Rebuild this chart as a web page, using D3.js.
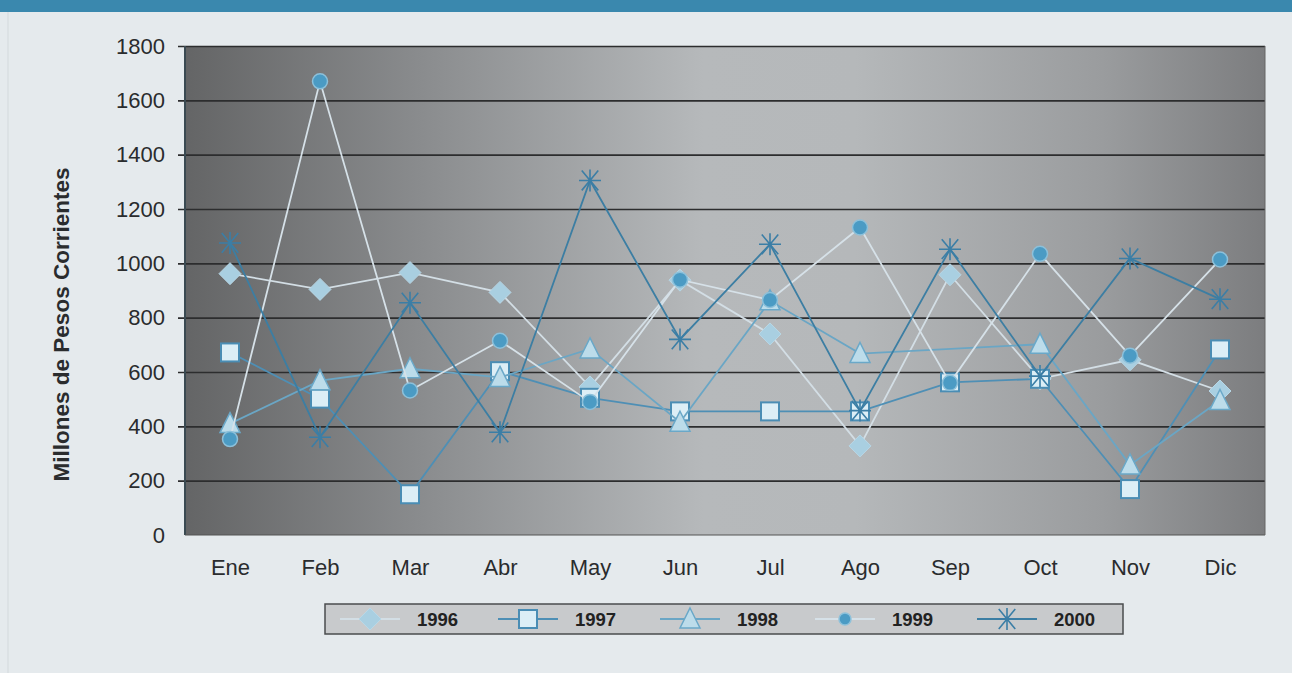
<!DOCTYPE html>
<html><head><meta charset="utf-8">
<script src="https://cdn.jsdelivr.net/npm/d3@7"></script>
<style>html,body{margin:0;padding:0;background:#e5eaed;}svg{display:block;}</style>
</head><body>
<svg id="c" width="1292" height="673"></svg>
<script>
const months = ["Ene","Feb","Mar","Abr","May","Jun","Jul","Ago","Sep","Oct","Nov","Dic"];
const yTicks = [0,200,400,600,800,1000,1200,1400,1600,1800];
const years = ["1996","1997","1998","1999","2000"];
const s1996 = [962, 904, 966, 893, 545, 938, 740, 328, 958, 575, 645, 530];
const s1997 = [672, 502, 150, 603, 505, 455, 455, 455, 562, 575, 169, 683];
const s1998 = [410, 568, 612, 580, 685, 415, 862, 668, null, 702, 258, 495];
const s1999 = [353, 1670, 532, 715, 490, 940, 865, 1132, 560, 1035, 660, 1014];
const s2000 = [1075, 360, 855, 378, 1305, 720, 1070, 458, 1052, 585, 1018, 868];
const seriesValues = [s1996, s1997, s1998, s1999, s2000];

const svg = d3.select("#c");
const W = 1292, H = 673;
const L = 185, R = 1265, T = 46, B = 535;
const FONT = "Liberation Sans, Arial, sans-serif";

svg.append("rect").attr("width", W).attr("height", H).attr("fill", "#e5eaed");
svg.append("rect").attr("x", 0).attr("y", 0).attr("width", W).attr("height", 12).attr("fill", "#3a88ae");
svg.append("line").attr("x1", 8).attr("x2", 8).attr("y1", 12).attr("y2", H).attr("stroke", "#d3d9dc").attr("stroke-width", 1);

const x = d3.scalePoint().domain(months).range([L, R]).padding(0.5);
const y = d3.scaleLinear().domain([0, 1800]).range([B, T]);

const defs = svg.append("defs");
const g1 = defs.append("linearGradient").attr("id", "bg").attr("x1", "0").attr("x2", "1").attr("y1", "0").attr("y2", "0");
[[0, "#646566"], [0.22, "#8a8c8e"], [0.48, "#b6b9bb"], [0.62, "#b5b8ba"], [0.85, "#9a9c9e"], [1, "#7c7d7f"]].forEach(([o, c]) =>
  g1.append("stop").attr("offset", o).attr("stop-color", c));
svg.append("rect").attr("x", L).attr("y", T).attr("width", R - L).attr("height", B - T)
  .attr("fill", "url(#bg)");

const yAxis = d3.axisLeft(y).tickValues(yTicks).tickSize(-(R - L)).tickPadding(12).tickFormat(d3.format("d"));
const ga = svg.append("g").attr("transform", `translate(${L},0)`).call(yAxis);
ga.select(".domain").remove();
ga.selectAll(".tick line").attr("stroke", "#2c2d2e").attr("stroke-width", 1.6)
  .attr("x1", -7).filter(d => d === 0).remove();
ga.selectAll(".tick text").attr("font-family", FONT).attr("font-size", 22)
  .attr("fill", "#2a2c2e").attr("x", -20);
svg.append("line").attr("x1", L).attr("x2", L).attr("y1", T).attr("y2", B).attr("stroke", "#3a4a52").attr("stroke-width", 2);
svg.append("line").attr("x1", L).attr("x2", R).attr("y1", B).attr("y2", B).attr("stroke", "#555").attr("stroke-width", 1.2);
svg.append("line").attr("x1", R).attr("x2", R).attr("y1", T).attr("y2", B).attr("stroke", "#666").attr("stroke-width", 1);

const xAxis = d3.axisBottom(x).tickSize(0).tickPadding(24);
const gx = svg.append("g").attr("transform", `translate(0,${B})`).call(xAxis);
gx.select(".domain").remove();
gx.selectAll(".tick text").attr("font-family", FONT).attr("font-size", 22).attr("fill", "#2a2c2e");

svg.append("text").attr("transform", `translate(69,${(T + B) / 2 + 34}) rotate(-90)`)
  .attr("text-anchor", "middle").attr("font-family", FONT)
  .attr("font-weight", "bold").attr("font-size", 22.5).attr("fill", "#2a2c2e")
  .text("Millones de Pesos Corrientes");

const styles = [
  {line: "#d3dee5", type: "diamond", fill: "#a9cfe1", stroke: "#b8d7e6"},
  {line: "#4e8fb5", type: "square", fill: "#dceef6", stroke: "#4a8db4"},
  {line: "#6aa6c5", type: "triangle", fill: "#bcdcea", stroke: "#6aa8c8"},
  {line: "#d6e1e8", type: "circle", fill: "#4b9bc4", stroke: "#8cc0da"},
  {line: "#3c7ea3", type: "star", fill: "none", stroke: "#3b7ea6"}
];

function drawMarker(g, type, cx, cy, st, s) {
  s = s || 1;
  if (type === "diamond") {
    const r = 11 * s;
    g.append("path").attr("d", `M${cx},${cy - r}L${cx + r},${cy}L${cx},${cy + r}L${cx - r},${cy}Z`)
      .attr("fill", st.fill).attr("stroke", st.stroke).attr("stroke-width", 1);
  } else if (type === "square") {
    const r = 9 * s;
    g.append("rect").attr("x", cx - r).attr("y", cy - r).attr("width", 2 * r).attr("height", 2 * r)
      .attr("fill", st.fill).attr("stroke", st.stroke).attr("stroke-width", 2);
  } else if (type === "triangle") {
    const r = 10 * s;
    g.append("path").attr("d", `M${cx},${cy - r * 1.1}L${cx + r},${cy + r * 0.9}L${cx - r},${cy + r * 0.9}Z`)
      .attr("fill", st.fill).attr("stroke", st.stroke).attr("stroke-width", 1.5);
  } else if (type === "circle") {
    g.append("circle").attr("cx", cx).attr("cy", cy).attr("r", 7.5 * s)
      .attr("fill", st.fill).attr("stroke", st.stroke).attr("stroke-width", 1.5);
  } else if (type === "star") {
    const r = 11 * s;
    const p = [];
    p.push(`M${cx - r},${cy}L${cx + r},${cy}`);
    p.push(`M${cx},${cy - r}L${cx},${cy + r}`);
    const k = r * 0.75;
    p.push(`M${cx - k},${cy - r * 0.9}L${cx + k},${cy + r * 0.9}`);
    p.push(`M${cx - k},${cy + r * 0.9}L${cx + k},${cy - r * 0.9}`);
    g.append("path").attr("d", p.join("")).attr("fill", "none").attr("stroke", st.stroke).attr("stroke-width", 1.6);
  }
}

const line = d3.line().x(d => x(d.m)).y(d => y(d.v));
seriesValues.forEach((vals, i) => {
  const st = styles[i];
  const pts = vals.map((v, j) => ({m: months[j], v})).filter(d => d.v != null);
  const g = svg.append("g");
  g.append("path").attr("d", line(pts)).attr("fill", "none").attr("stroke", st.line).attr("stroke-width", 1.8);
  pts.forEach(d => drawMarker(g, st.type, x(d.m), y(d.v), st));
});

const lg = svg.append("g");
lg.append("rect").attr("x", 325).attr("y", 604).attr("width", 798).attr("height", 30)
  .attr("fill", "#c8cacc").attr("stroke", "#4a4c4e").attr("stroke-width", 1.5);
const legX = [370, 528, 690, 845, 1007];
years.forEach((yr, i) => {
  const st = styles[i];
  const cx = legX[i], cy = 619;
  lg.append("line").attr("x1", cx - 30).attr("x2", cx + 30).attr("y1", cy).attr("y2", cy)
    .attr("stroke", st.line).attr("stroke-width", 2);
  drawMarker(lg, st.type, cx, cy, st, i === 3 ? 0.8 : 1);
  lg.append("text").attr("x", cx + 47).attr("y", cy + 6.5).attr("font-family", FONT)
    .attr("font-weight", "bold").attr("font-size", 18.5).attr("fill", "#222").text(yr);
});
</script>
</body></html>
